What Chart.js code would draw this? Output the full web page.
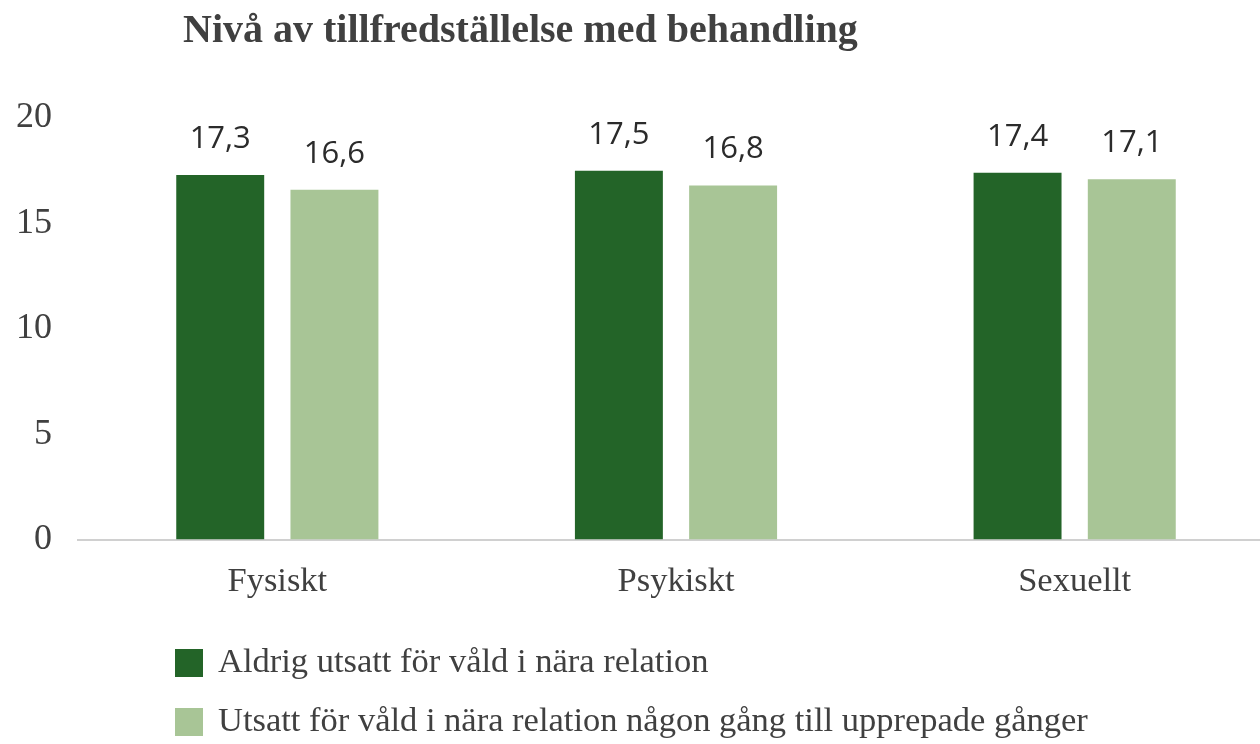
<!DOCTYPE html>
<html>
<head>
<meta charset="utf-8">
<script src="https://cdn.jsdelivr.net/npm/chart.js@4"></script>
<style>
  html, body { margin: 0; padding: 0; background: #fff; overflow: hidden; }
  #wrap { width: 1274px; height: 744px; }
</style>
</head>
<body>
<div id="wrap"><canvas id="myChart"></canvas></div>
<script>
var titleText = 'Nivå av tillfredställelse med behandling';
var categories = ['Fysiskt', 'Psykiskt', 'Sexuellt'];
var seriesNames = ['Aldrig utsatt för våld i nära relation', 'Utsatt för våld i nära relation någon gång till upprepade gånger'];
var neverValues = [17.3, 17.5, 17.4];
var exposedValues = [16.6, 16.8, 17.1];
var yTicks = [0, 5, 10, 15, 20];

var serif = '"Liberation Serif", "DejaVu Serif", serif';
var textColor = '#404040';

document.addEventListener('DOMContentLoaded', function(){
    // value labels above each bar
    var valueLabels = {
        id: 'valueLabels',
        afterDatasetsDraw: function(chart){
            var ctx = chart.ctx;
            ctx.save();
            ctx.font = '31px "Open Sans", "Liberation Sans", sans-serif';
            ctx.fillStyle = '#2b2b2b';
            ctx.textAlign = 'center';
            ctx.textBaseline = 'middle';
            chart.data.datasets.forEach(function(ds, i){
                chart.getDatasetMeta(i).data.forEach(function(bar, j){
                    ctx.fillText(ds.data[j].toFixed(1).replace('.', ','), bar.x, bar.y - 36);
                });
            });
            ctx.restore();
        }
    };

    // title + left-aligned legend
    var decorations = {
        id: 'decorations',
        afterDraw: function(chart){
            var ctx = chart.ctx;
            ctx.save();
            ctx.fillStyle = textColor;
            ctx.textBaseline = 'middle';
            ctx.textAlign = 'left';
            ctx.font = 'bold 40px ' + serif;
            ctx.fillText(titleText, 183, 32);

            ctx.font = '34.5px ' + serif;
            chart.data.datasets.forEach(function(ds, i){
                var y = 663 + i * 59;
                ctx.fillStyle = ds.backgroundColor;
                ctx.fillRect(175, y - 14, 28, 28);
                ctx.fillStyle = textColor;
                ctx.fillText(ds.label, 218, y);
            });
            ctx.restore();
        }
    };

    var data = {
        labels: categories,
        datasets: [{
            label: seriesNames[0],
            backgroundColor: '#236428',
            data: neverValues,
            barPercentage: 0.77,
            categoryPercentage: 0.573
        }, {
            label: seriesNames[1],
            backgroundColor: '#a8c596',
            data: exposedValues,
            barPercentage: 0.77,
            categoryPercentage: 0.573
        }]
    };

    var options = {
        responsive: true,
        maintainAspectRatio: false,
        animation: false,
        layout: {
            padding: { top: 118, left: 0, right: 0, bottom: 119 }
        },
        plugins: {
            legend: { display: false },
            title: { display: false },
            tooltip: { enabled: false }
        },
        scales: {
            x: {
                grid: { display: false, drawTicks: false },
                border: { display: true, color: '#d0d0d0', width: 2 },
                ticks: {
                    color: textColor,
                    padding: 22,
                    font: { family: serif, size: 34.5 }
                }
            },
            y: {
                min: 0,
                max: 20,
                afterBuildTicks: function(axis){
                    axis.ticks = yTicks.map(function(v){ return { value: v }; });
                },
                afterFit: function(axis){
                    axis.width = 78;
                },
                grid: { display: false, drawTicks: false },
                border: { display: false },
                ticks: {
                    color: textColor,
                    padding: 26,
                    font: { family: serif, size: 36 }
                }
            }
        }
    };

    var ctx = document.getElementById('myChart').getContext('2d');
    var myChart = new Chart(ctx, {
        type: 'bar',
        data: data,
        options: options,
        plugins: [valueLabels, decorations]
    });
});
</script>
</body>
</html>
